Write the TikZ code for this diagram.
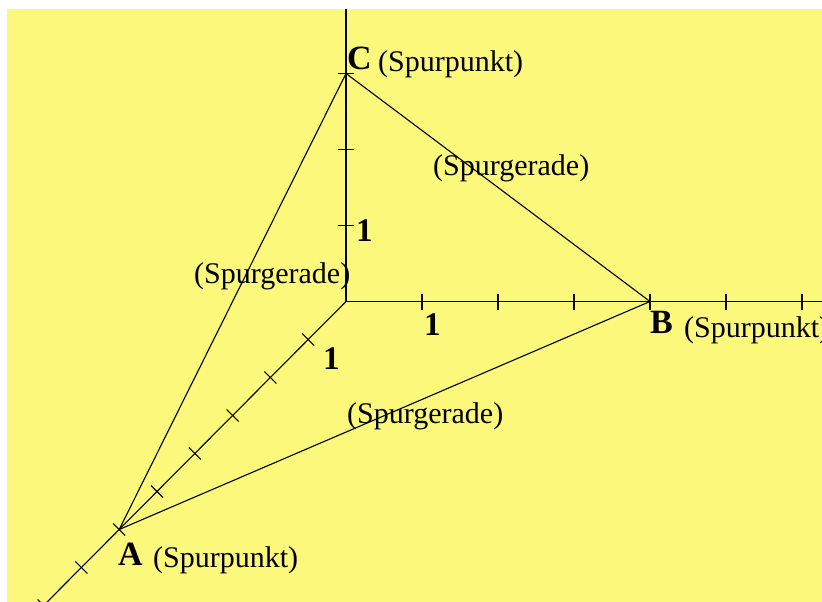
\documentclass[tikz,border=0pt]{standalone}
\usepackage{fontspec}
\setmainfont{Liberation Serif}
\definecolor{bg}{RGB}{252,248,124}
\begin{document}
\begin{tikzpicture}[x=1pt,y=-1pt,
 axis/.style={line width=1.7pt},
 edge/.style={line width=1.1pt},
 tickmark/.style={line width=1.1pt},
 lbl/.style={anchor=base west,inner sep=0pt,font=\fontsize{30}{30}\selectfont},
 ptlbl/.style={anchor=base west,inner sep=0pt,font=\fontsize{34}{34}\selectfont\bfseries},
 numlbl/.style={anchor=base west,inner sep=0pt,font=\fontsize{33}{33}\selectfont\bfseries}]
\useasboundingbox (0,0) rectangle (822,602);
\fill[white] (0,0) rectangle (822,602);
\fill[bg] (7,9) rectangle (822,602);
\begin{scope}
\clip (7,9) rectangle (822,602);
\coordinate (O) at (346,301.5);
\coordinate (A) at (119.2,529.5);
\coordinate (B) at (650,301.5);
\coordinate (C) at (346,73.5);
\coordinate (Ztop) at (346,9);
\coordinate (Xend) at (822,301.5);
\coordinate (Yend) at (-32,681.5);
\draw[axis] (Ztop) -- (O) -- (Xend);
\draw[edge] (O) -- (Yend);
\foreach \k in {1,...,6} \draw[tickmark] (346+76*\k,293.5) -- ++(0,16);
\foreach \k in {1,2,3} \draw[tickmark] (338,301.5-76*\k) -- ++(16,0);
\foreach \k in {1,...,8} \draw[tickmark] (346-37.8*\k-6,301.5+38*\k-6) -- ++(12,12);
\draw[edge] (A) -- (C) -- (B) -- (A);
\node[ptlbl] (lC) at (347,70) {C};
\node[lbl] (sC) at (378,71) {(Spurpunkt)};
\node[ptlbl] (lB) at (650,333) {B};
\node[lbl] (sB) at (684,337) {(Spurpunkt)};
\node[ptlbl] (lA) at (118,565) {A};
\node[lbl] (sA) at (153,567) {(Spurpunkt)};
\node[numlbl] (n1) at (356,241) {1};
\node[numlbl] (n2) at (424,335) {1};
\node[numlbl] (n3) at (323,369) {1};
\node[lbl] (g1) at (433,175) {(Spurgerade)};
\node[lbl] (g2) at (194,283) {(Spurgerade)};
\node[lbl] (g3) at (347,423) {(Spurgerade)};
\end{scope}
\end{tikzpicture}
\end{document}
